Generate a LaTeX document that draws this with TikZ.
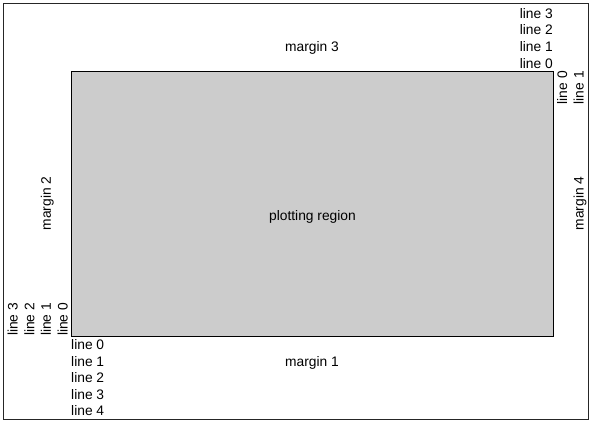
\documentclass[tikz,border=0pt]{standalone}
\usepackage{fontspec}
\setmainfont{Liberation Sans}
\usepackage{xcolor}
\usetikzlibrary{positioning}
\usetikzlibrary{calc}

\definecolor{plotgray}{HTML}{CCCCCC}
\tikzset{
	mtext/.style={inner sep=0pt, font=\fontsize{13.8}{16.6}\selectfont},
}

\begin{document}
\begin{tikzpicture}[x=1pt, y=-1pt]
					\useasboundingbox (0,0) rectangle (591,423);
					% corners of the device and of the plot
					\coordinate (devNW) at (3,3);
					\coordinate (devSE) at (588,419);
					\coordinate (plotNW) at (71,71);
					\coordinate (plotSE) at (553,336);
					% draw device frame
					\draw[line width=1pt, black!85] (devNW) rectangle (devSE);
					% draw plotting region
					\filldraw[fill=plotgray, draw=black, line width=0.8pt] (plotNW) rectangle (plotSE);
					\node[mtext, anchor=base] (region) at (312.5,220.5) {plotting region};
					% side 1 (bottom)
					\node[mtext, anchor=base west] (bot0) at (71,349.5) {line 0};
					\node[mtext, anchor=base west] (bot1) at (71,366.1) {line 1};
					\node[mtext, anchor=base west] (bot2) at (71,382.7) {line 2};
					\node[mtext, anchor=base west] (bot3) at (71,399.3) {line 3};
					\node[mtext, anchor=base west] (bot4) at (71,415.9) {line 4};
					\node[mtext, anchor=base] (margin1) at (312,366.1) {margin 1};
					% side 2 (left)
					\node[mtext, anchor=base west, rotate=90] (left0) at (67.5,336) {line 0};
					\node[mtext, anchor=base west, rotate=90] (left1) at (50.9,336) {line 1};
					\node[mtext, anchor=base west, rotate=90] (left2) at (34.3,336) {line 2};
					\node[mtext, anchor=base west, rotate=90] (left3) at (17.7,336) {line 3};
					\node[mtext, anchor=base, rotate=90] (margin2) at (50.9,203.5) {margin 2};
					% side 3 (top)
					\node[mtext, anchor=base east] (top0) at (553,68) {line 0};
					\node[mtext, anchor=base east] (top1) at (553,51.4) {line 1};
					\node[mtext, anchor=base east] (top2) at (553,34.8) {line 2};
					\node[mtext, anchor=base east] (top3) at (553,18.2) {line 3};
					\node[mtext, anchor=base] (margin3) at (312,51.4) {margin 3};
					% side 4 (right)
					\node[mtext, anchor=base east, rotate=90] (right0) at (567,71) {line 0};
					\node[mtext, anchor=base east, rotate=90] (right1) at (583.6,71) {line 1};
					\node[mtext, anchor=base, rotate=90] (margin4) at (583.6,203.5) {margin 4};
				\end{tikzpicture}
\end{document}
